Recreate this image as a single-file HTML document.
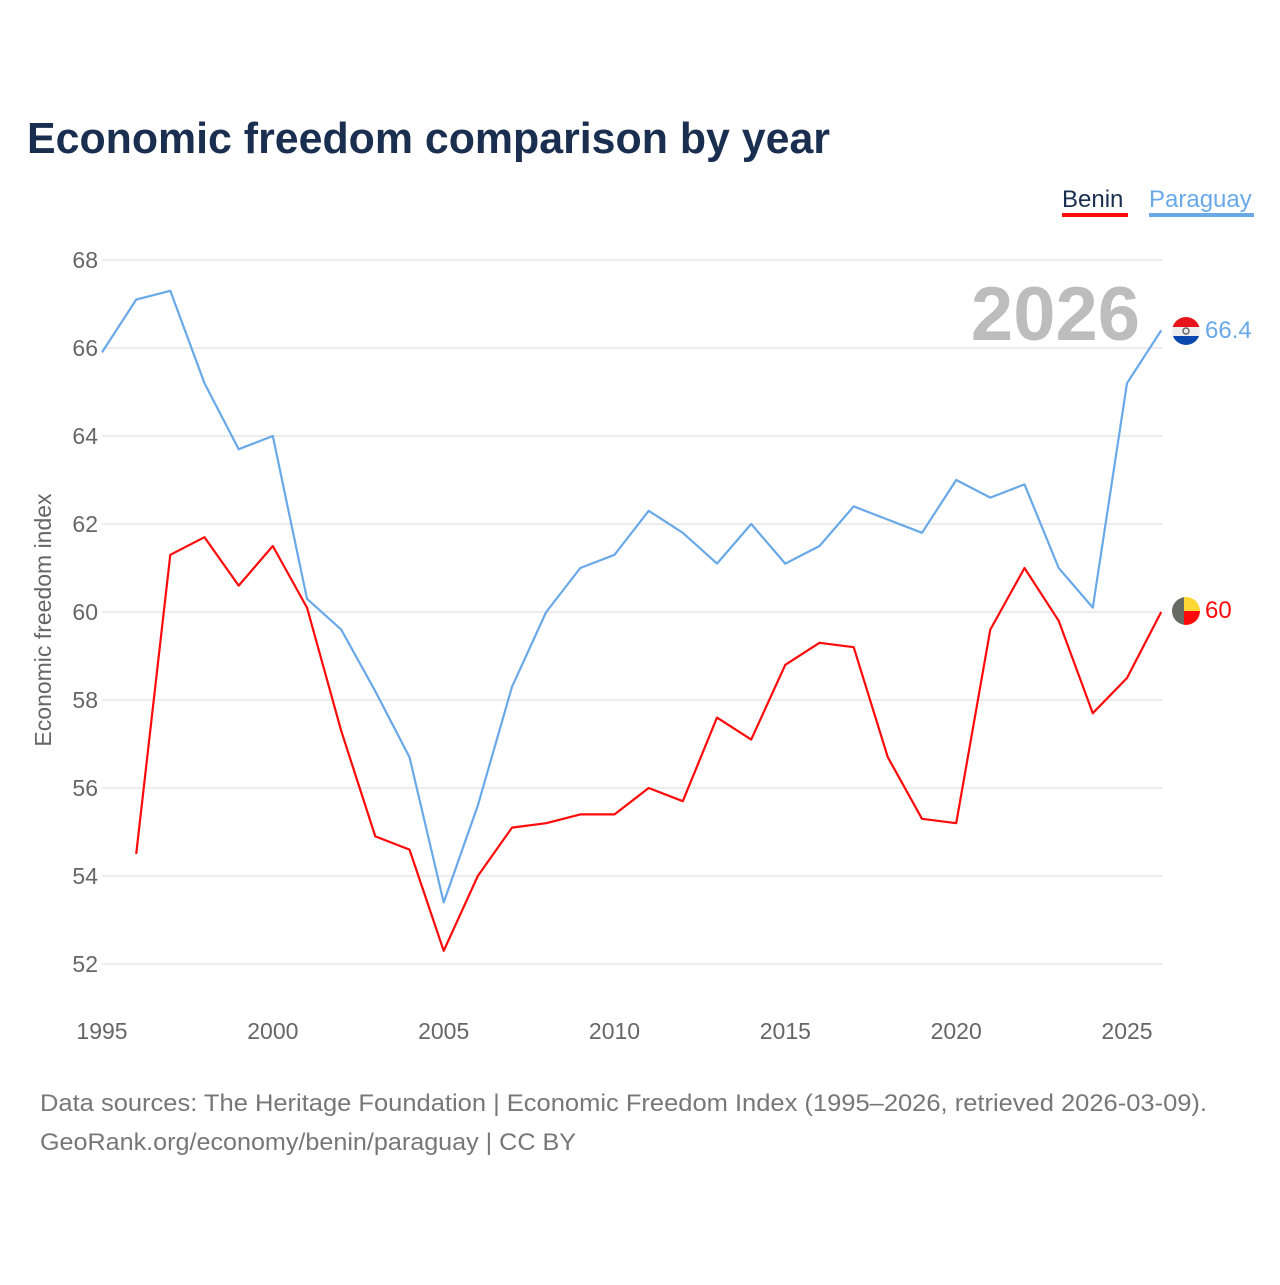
<!DOCTYPE html>
<html><head><meta charset="utf-8"><style>
body{margin:0;background:#fff;font-family:"Liberation Sans",sans-serif;}
</style></head><body>
<svg id="chart" width="1280" height="1280" xmlns="http://www.w3.org/2000/svg">
<text x="27" y="153" font-size="44" font-weight="bold" fill="#1a2e4f" textLength="803" lengthAdjust="spacingAndGlyphs">Economic freedom comparison by year</text>
<g>
<text x="1062" y="207" font-size="24" fill="#1a2e4f">Benin</text>
<rect x="1062" y="213" width="66" height="4" fill="#ff0a0a"/>
<text x="1149" y="207" font-size="24" fill="#69a9e8">Paraguay</text>
<rect x="1149" y="213" width="105" height="4" fill="#69a9e8"/>
</g>
<text x="1140" y="340" font-size="76" font-weight="bold" fill="#bdbdbd" text-anchor="end">2026</text>
<g id="grid"></g><g id="axes"></g><g id="lines"></g>
<text transform="translate(51,620) rotate(-90)" font-size="23" fill="#666" text-anchor="middle">Economic freedom index</text>
<g>
<clipPath id="c1"><circle cx="1186" cy="331" r="14"/></clipPath>
<g clip-path="url(#c1)"><rect x="1172" y="317" width="28" height="10" fill="#e8141c"/><rect x="1172" y="327" width="28" height="9" fill="#eee"/><rect x="1172" y="336" width="28" height="10" fill="#0a48b0"/><circle cx="1186" cy="331" r="3" fill="none" stroke="#666" stroke-width="1.5"/></g>
<text x="1205" y="338" font-size="24" fill="#69a9e8">66.4</text>
<clipPath id="c2"><circle cx="1186" cy="611" r="14"/></clipPath>
<g clip-path="url(#c2)"><rect x="1172" y="597" width="12" height="28" fill="#676b62"/><rect x="1184" y="597" width="16" height="14" fill="#fdd835"/><rect x="1184" y="611" width="16" height="14" fill="#ff0a0a"/></g>
<text x="1205" y="618" font-size="24" fill="#ff0a0a">60</text>
</g>
<text x="40" y="1111" font-size="24" fill="#777" textLength="1167" lengthAdjust="spacingAndGlyphs">Data sources: The Heritage Foundation | Economic Freedom Index (1995–2026, retrieved 2026-03-09).</text>
<text x="40" y="1150" font-size="24" fill="#777" textLength="536" lengthAdjust="spacingAndGlyphs">GeoRank.org/economy/benin/paraguay | CC BY</text>
</svg>
<script>
const years=[1995,1996,1997,1998,1999,2000,2001,2002,2003,2004,2005,2006,2007,2008,2009,2010,2011,2012,2013,2014,2015,2016,2017,2018,2019,2020,2021,2022,2023,2024,2025,2026];
const paraguay=[65.9,67.1,67.3,65.2,63.7,64.0,60.3,59.6,58.2,56.7,53.4,55.6,58.3,60.0,61.0,61.3,62.3,61.8,61.1,62.0,61.1,61.5,62.4,62.1,61.8,63.0,62.6,62.9,61.0,60.1,65.2,66.4];
const benin=[null,54.5,61.3,61.7,60.6,61.5,60.1,57.3,54.9,54.6,52.3,54.0,55.1,55.2,55.4,55.4,56.0,55.7,57.6,57.1,58.8,59.3,59.2,56.7,55.3,55.2,59.6,61.0,59.8,57.7,58.5,60.0];
const yTicks=[52,54,56,58,60,62,64,66,68];
const xTicks=[1995,2000,2005,2010,2015,2020,2025];
const NS="http://www.w3.org/2000/svg";
const xs=y=>102+(y-1995)*(1127-102)/30;
const ys=v=>260+(68-v)*44;
function mk(t,a,p){const e=document.createElementNS(NS,t);for(const k in a)e.setAttribute(k,a[k]);p.appendChild(e);return e;}
const grid=document.getElementById('grid'),axes=document.getElementById('axes'),lines=document.getElementById('lines');
yTicks.forEach(v=>{
const l=mk('line',{x1:102,x2:1162,y1:ys(v),y2:ys(v),stroke:'#e6e6e6','stroke-width':1.5},grid);


const t=mk('text',{x:98,y:ys(v)+8,'font-size':23,fill:'#666','text-anchor':'end'},axes);t.textContent=v;


});
xTicks.forEach(v=>{
const t=mk('text',{x:xs(v),y:1039,'font-size':23,fill:'#666','text-anchor':'middle'},axes);t.textContent=v;


});
function line(data,color,name){
let d='';data.forEach((v,i)=>{if(v==null)return;d+=(d?'L':'M')+xs(years[i]).toFixed(1)+','+ys(v).toFixed(1);});
const p=mk('path',{d:d,fill:'none',stroke:color,'stroke-width':2.2,'stroke-linejoin':'round'},lines);


}
line(paraguay,'#69a9e8','paraguay-line');
line(benin,'#ff0a0a','benin-line');
</script>
</body></html>
